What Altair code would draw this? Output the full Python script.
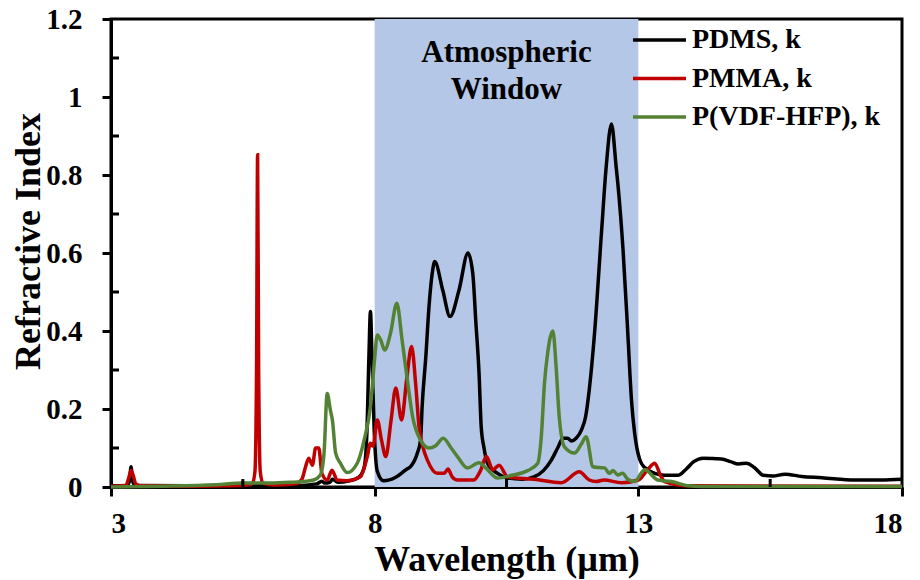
import altair as alt
import pandas as pd

SERIES = ["PDMS, k", "PMMA, k", "P(VDF-HFP), k"]
COLORS = ["#000000", "#C00000", "#548235"]

pdms_x = [3.0, 3.3, 3.35, 3.38, 3.41, 3.46, 4.5, 5.45, 5.5, 5.55, 6.5, 6.9, 7.0, 7.05, 7.15, 7.2, 7.3, 7.5, 7.7, 7.8,
          7.85, 7.89, 7.92, 7.95, 7.99, 8.05, 8.17, 8.4, 8.6, 8.68, 8.81, 8.87, 8.90, 8.97, 9.03, 9.10, 9.14, 9.29,
          9.43, 9.60, 9.77, 9.86, 9.92, 9.98, 10.02, 10.07, 10.14, 10.33, 10.52, 10.8, 11.02, 11.2, 11.35, 11.47,
          11.57, 11.66, 11.73, 11.82, 11.92, 12.0, 12.07, 12.17, 12.30, 12.39, 12.49, 12.58, 12.61, 12.71, 12.80,
          12.87, 12.93, 13.03, 13.12, 13.31, 13.5, 13.75, 13.9, 14.05, 14.23, 14.58, 14.75, 14.9, 15.05, 15.2,
          15.37, 15.55, 15.78, 16.1, 16.48, 17.1, 17.6, 18.0]
pdms_y = [0.003, 0.004, 0.015, 0.052, 0.015, 0.004, 0.003, 0.004, 0.013, 0.004, 0.004, 0.008, 0.015, 0.01, 0.012,
          0.02, 0.012, 0.015, 0.025, 0.05, 0.13, 0.33, 0.45, 0.33, 0.15, 0.04, 0.016, 0.025, 0.045, 0.052, 0.087,
          0.12, 0.206, 0.334, 0.462, 0.556, 0.578, 0.505, 0.437, 0.505, 0.60, 0.548, 0.42, 0.29, 0.155, 0.103,
          0.061, 0.035, 0.023, 0.02, 0.026, 0.042, 0.069, 0.1, 0.125, 0.125, 0.118, 0.125, 0.146, 0.18, 0.25,
          0.395, 0.65, 0.82, 0.931, 0.82, 0.78, 0.608, 0.395, 0.223, 0.138, 0.069, 0.05, 0.035, 0.03, 0.03,
          0.045, 0.065, 0.074, 0.072, 0.065, 0.059, 0.061, 0.05, 0.03, 0.028, 0.033, 0.027, 0.024, 0.018,
          0.018, 0.02]

pmma_x = [3.0, 3.28, 3.33, 3.38, 3.42, 3.47, 3.55, 4.5, 5.5, 5.68, 5.73, 5.76, 5.78, 5.80, 5.83, 5.88, 6.1, 6.5,
          6.62, 6.69, 6.75, 6.82, 6.88, 6.94, 7.0, 7.1, 7.19, 7.29, 7.48, 7.73, 7.86, 7.92, 7.97, 8.05, 8.13, 8.21,
          8.31, 8.4, 8.51, 8.61, 8.7, 8.78, 8.84, 8.92, 9.0, 9.19, 9.32, 9.39, 9.47, 9.57, 9.88, 10.0, 10.12,
          10.24, 10.36, 10.52, 11.02, 11.54, 11.88, 12.07, 12.2, 12.35, 12.68, 13.0, 13.18, 13.31, 13.42, 13.5,
          13.95, 18.0]
pmma_y = [0.002, 0.004, 0.02, 0.042, 0.03, 0.008, 0.003, 0.002, 0.004, 0.008, 0.04, 0.3, 0.852, 0.3, 0.04, 0.01,
          0.005, 0.008, 0.02, 0.052, 0.074, 0.056, 0.1, 0.1, 0.035, 0.018, 0.043, 0.018, 0.016, 0.026, 0.078,
          0.112, 0.105, 0.172, 0.12, 0.078, 0.17, 0.254, 0.172, 0.28, 0.36, 0.26, 0.155, 0.1, 0.069, 0.035,
          0.035, 0.046, 0.026, 0.018, 0.018, 0.04, 0.078, 0.044, 0.056, 0.026, 0.02, 0.011, 0.039, 0.018, 0.014,
          0.018, 0.011, 0.018, 0.045, 0.061, 0.03, 0.014, 0.003, 0.002]

pvdf_x = [3.0, 4.0, 5.0, 5.5, 6.0, 6.4, 6.7, 6.84, 6.97, 7.04, 7.1, 7.16, 7.2, 7.26, 7.35, 7.48, 7.67, 7.8, 7.92,
          8.0, 8.05, 8.12, 8.19, 8.3, 8.42, 8.52, 8.62, 8.72, 8.87, 9.03, 9.15, 9.3, 9.45, 9.57, 9.76, 9.98, 10.1,
          10.33, 10.6, 10.9, 11.09, 11.16, 11.22, 11.28, 11.38, 11.44, 11.5, 11.6, 11.79, 11.92, 12.01, 12.14,
          12.25, 12.36, 12.45, 12.52, 12.61, 12.7, 12.8, 12.93, 13.12, 13.37, 13.63, 13.95, 14.2, 18.0]
pvdf_y = [0.0, 0.002, 0.006, 0.01, 0.01, 0.012, 0.015, 0.018, 0.031, 0.087, 0.24, 0.197, 0.17, 0.087, 0.061, 0.037,
          0.061, 0.12, 0.206, 0.33, 0.39, 0.375, 0.351, 0.394, 0.471, 0.377, 0.274, 0.18, 0.12, 0.1, 0.105, 0.125,
          0.1, 0.078, 0.049, 0.062, 0.05, 0.023, 0.03, 0.042, 0.06, 0.129, 0.266, 0.343, 0.4, 0.31, 0.18, 0.103,
          0.087, 0.11, 0.129, 0.052, 0.05, 0.049, 0.035, 0.042, 0.031, 0.035, 0.02, 0.014, 0.044, 0.018, 0.014,
          0.003, 0.001, 0.001]

window_start, window_end = 8, 13
window_text = ["Atmospheric", "Window"]
window_text_y = [1.09, 0.995]
window_text_x = [10.5, 10.5]

x_ticks = [3, 8, 13, 18]
x_minor = [5.5, 10.5, 15.5]
y_ticks = [0, 0.2, 0.4, 0.6, 0.8, 1.0, 1.2]
y_minor = [0.1, 0.3, 0.5, 0.7, 0.9, 1.1]

FONT = "Liberation Serif"
W, H = 791, 468

rows = []
for name, xs, ys in zip(SERIES, [pdms_x, pmma_x, pvdf_x], [pdms_y, pmma_y, pvdf_y]):
    for i, (a, b) in enumerate(zip(xs, ys)):
        rows.append({"series": name, "wl": a, "k": b, "i": i})
df = pd.DataFrame(rows)

xscale = alt.Scale(domain=[3, 18], nice=False, zero=False)
yscale = alt.Scale(domain=[0, 1.2], nice=False)
cscale = alt.Scale(domain=SERIES, range=COLORS)

band = alt.Chart(pd.DataFrame({"a": [window_start], "b": [window_end]})).mark_rect(
    color="#B4C7E7", opacity=1
).encode(
    x=alt.X("a:Q", scale=xscale,
            axis=alt.Axis(values=x_ticks, title="Wavelength (µm)", format="d", labelPadding=13,
                          titleY=83, titleBaseline="alphabetic")),
    x2="b:Q",
    y=alt.value(0),
    y2=alt.value(H),
)

txt = alt.Chart(pd.DataFrame({"t": window_text, "x": window_text_x, "y": window_text_y})).mark_text(
    font=FONT, fontSize=31, fontWeight="bold", align="center", baseline="alphabetic", color="black"
).encode(x=alt.X("x:Q", scale=xscale), y=alt.Y("y:Q", scale=yscale), text="t:N")

lines = alt.Chart(df).mark_line(strokeWidth=3.5, interpolate="monotone").encode(
    x=alt.X("wl:Q", scale=xscale),
    y=alt.Y("k:Q", scale=yscale,
            axis=alt.Axis(values=y_ticks, title="Refractive Index", format="~g", labelPadding=20,
                          titleX=-72, titleY=222, titleBaseline="alphabetic")),
    color=alt.Color("series:N", scale=cscale, legend=None),
    order="i:Q",
)

# legend built from the series list (one row per series)
leg = alt.Chart(pd.DataFrame({"series": SERIES, "row": list(range(len(SERIES)))})).transform_calculate(
    ly="21 + 38.5 * datum.row"
)
leg_line = leg.mark_rule(strokeWidth=3.5).encode(
    x=alt.value(522), x2=alt.value(575), y=alt.Y("ly:Q", scale=None),
    color=alt.Color("series:N", scale=cscale, legend=None),
)
leg_text = leg.mark_text(
    font=FONT, fontSize=28, fontWeight="bold", align="left", baseline="middle", color="black"
).encode(x=alt.value(581), y=alt.Y("ly:Q", scale=None), text="series:N")

ymin = alt.Chart(pd.DataFrame({"v": y_minor})).mark_rule(color="black", strokeWidth=3).encode(
    y=alt.Y("v:Q", scale=yscale), x=alt.value(0), x2=alt.value(8)
)
xmin = alt.Chart(pd.DataFrame({"v": x_minor})).mark_rule(color="black", strokeWidth=3).encode(
    x=alt.X("v:Q", scale=xscale), y=alt.value(H), y2=alt.value(H - 8)
)

chart = alt.layer(band, txt, lines, ymin, xmin, leg_line, leg_text).properties(
    width=W, height=H,
    autosize=alt.AutoSizeParams(type="none"),
    padding={"left": 111, "top": 19, "right": 18, "bottom": 93},
).configure_view(
    stroke="black", strokeWidth=3
).configure_axis(
    labelFont=FONT, labelFontSize=29, labelFontWeight="bold", labelColor="black",
    titleFont=FONT, titleFontSize=36, titleFontWeight="bold", titleColor="black",
    domainColor="black", domainWidth=3, tickColor="black", tickWidth=3, tickSize=9,
    grid=False,
)

chart.save("out.html", embed_options={"renderer": "svg", "actions": False})
